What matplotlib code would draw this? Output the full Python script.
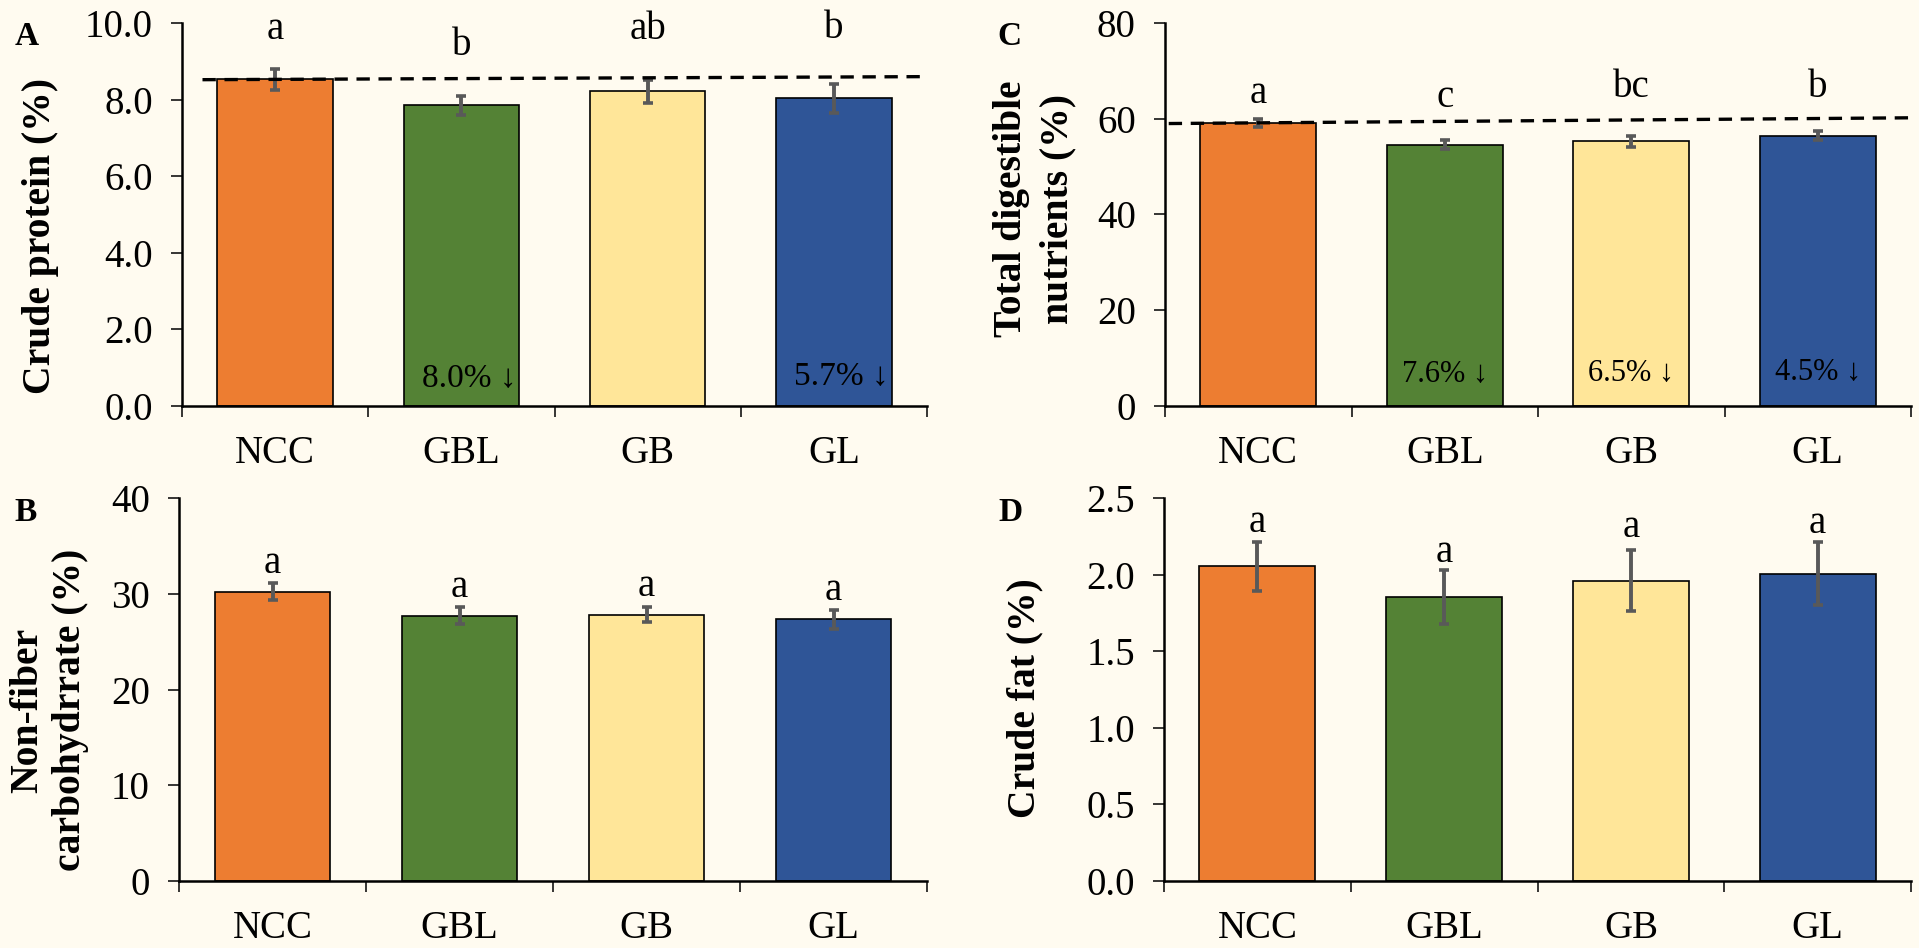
import matplotlib.pyplot as plt
import numpy as np

plt.rcParams['font.family'] = ['Liberation Serif', 'DejaVu Serif']

groups = ['NCC', 'GBL', 'GB', 'GL']
colors = ['#ED7D31', '#548235', '#FFE699', '#2F5597']
bg = '#FFFBF0'

# A: crude protein
cp_mean = [8.53, 7.85, 8.22, 8.04]
cp_err = [0.28, 0.25, 0.30, 0.38]
cp_letters = ['a', 'b', 'ab', 'b']
cp_drop = ['', '8.0% ↓', '', '5.7% ↓']
cp_ref = [8.52, 8.60]

# B: non-fiber carbohydrate
nfc_mean = [30.2, 27.7, 27.8, 27.35]
nfc_err = [0.9, 0.9, 0.8, 1.0]
nfc_letters = ['a', 'a', 'a', 'a']

# C: total digestible nutrients
tdn_mean = [59.1, 54.6, 55.25, 56.45]
tdn_err = [0.9, 0.9, 1.1, 0.9]
tdn_letters = ['a', 'c', 'bc', 'b']
tdn_drop = ['', '7.6% ↓', '6.5% ↓', '4.5% ↓']
tdn_ref = [59.0, 60.2]

# D: crude fat
fat_mean = [2.055, 1.855, 1.96, 2.005]
fat_err = [0.16, 0.175, 0.20, 0.205]
fat_letters = ['a', 'a', 'a', 'a']

fig = plt.figure(figsize=(19.19, 9.48), dpi=100, facecolor=bg)
W, H = 1919, 948


def make_ax(left, top, right, bottom):
    return fig.add_axes([left / W, 1 - bottom / H, (right - left) / W, (bottom - top) / H])


def panel(ax, mean, err, letters, letter_y, ylim, yticks, fmt):
    x = np.arange(len(groups))
    ax.set_facecolor(bg)
    ax.bar(x, mean, width=0.62, color=colors, edgecolor='black', linewidth=1.2, zorder=2)
    ax.errorbar(x, mean, yerr=err, fmt='none', ecolor='#595959', elinewidth=2.8,
                capsize=3.6, capthick=2.6, zorder=3)
    for xi, lt, ly in zip(x, letters, letter_y):
        ax.text(xi, ly, lt, ha='center', va='baseline', fontsize=28)
    ax.set_xlim(-0.5, 3.5)
    ax.set_ylim(*ylim)
    ax.set_yticks(yticks)
    ax.set_yticklabels([fmt.format(v) for v in yticks])
    ax.set_xticks([-0.5, 0.5, 1.5, 2.5, 3.5])
    ax.set_xticklabels([])
    ax.set_xticks(x, minor=True)
    ax.set_xticklabels(groups, minor=True)
    ax.tick_params(axis='x', which='major', direction='out', length=8, width=1.1)
    ax.tick_params(axis='x', which='minor', length=0, pad=21, labelsize=28)
    ax.tick_params(axis='y', direction='out', length=8, width=1.1, pad=13, labelsize=28)
    for s in ['top', 'right']:
        ax.spines[s].set_visible(False)
    for s in ['left', 'bottom']:
        ax.spines[s].set_linewidth(1.8)


def drops(ax, labels, ys, size, dx=0.0):
    for xi, (lab, yv) in enumerate(zip(labels, ys)):
        if lab:
            ax.text(xi + dx, yv, lab, ha='center', va='baseline', fontsize=size)


def ref_line(ax, x0, vals):
    ax.plot([x0, 3.5], vals, color='black', lw=2.4, ls=(0, (4, 2.6)), zorder=4,
            clip_on=False)


axA = make_ax(182, 23, 927, 406)
panel(axA, cp_mean, cp_err, cp_letters, [9.57, 9.16, 9.57, 9.6], (0, 10),
      [0, 2, 4, 6, 8, 10], '{:.1f}')
drops(axA, cp_drop, [0.5, 0.5, 0.5, 0.55], 24, dx=0.04)
ref_line(axA, -0.39, cp_ref)

axC = make_ax(1165, 23, 1911, 406)
panel(axC, tdn_mean, tdn_err, tdn_letters, [63.2, 62.4, 64.6, 64.6], (0, 80),
      [0, 20, 40, 60, 80], '{:.0f}')
drops(axC, tdn_drop, [5.1, 5.1, 5.3, 5.4], 22)
ref_line(axC, -0.48, tdn_ref)

axB = make_ax(179, 498, 927, 881)
panel(axB, nfc_mean, nfc_err, nfc_letters, [32.2, 29.7, 29.8, 29.3], (0, 40),
      [0, 10, 20, 30, 40], '{:.0f}')

axD = make_ax(1164, 498, 1911, 881)
panel(axD, fat_mean, fat_err, fat_letters, [2.276, 2.08, 2.243, 2.269], (0, 2.5),
      [0, 0.5, 1.0, 1.5, 2.0, 2.5], '{:.1f}')


# axis titles (rotated, placed by baseline) and panel letters
def ylab(px, py, s):
    fig.text(px / W, 1 - py / H, s, rotation=90, rotation_mode='anchor',
             ha='center', va='baseline', fontsize=28.5, fontweight='bold')


ylab(50, 236, 'Crude protein (%)')
ylab(37, 710, 'Non-fiber')
ylab(80, 710, 'carbohydrrate (%)')
ylab(1021, 209, 'Total digestible')
ylab(1067, 209, 'nutrients (%)')
ylab(1034, 698, 'Crude fat (%)')


def plab(px, py, s):
    fig.text(px / W, 1 - py / H, s, ha='center', va='baseline', fontsize=24,
             fontweight='bold')


plab(27, 45, 'A')
plab(26, 521, 'B')
plab(1009, 45, 'C')
plab(1010, 521, 'D')

fig.savefig('out.png', dpi=100, facecolor=bg)
